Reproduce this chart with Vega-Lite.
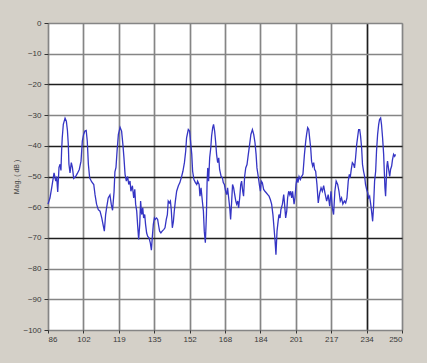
{
  "$schema": "https://vega.github.io/schema/vega-lite/v6.json",
  "width": 354,
  "height": 307,
  "autosize": {"type": "none"},
  "padding": {"left": 48, "top": 23, "right": 25, "bottom": 33},
  "background": "#d4d0c8",
  "config": {
    "view": {"fill": "white", "stroke": "#8a8a8a", "strokeWidth": 1},
    "font": "Liberation Sans"
  },
  "data": {
    "values": [
      {"f": 86.0, "mag": -59}, {"f": 86.9, "mag": -57}, {"f": 87.7, "mag": -53.7}, {"f": 88.8, "mag": -48.8},
      {"f": 89.6, "mag": -51.5}, {"f": 90.0, "mag": -50}, {"f": 90.5, "mag": -55}, {"f": 91.1, "mag": -47},
      {"f": 91.6, "mag": -46}, {"f": 92.0, "mag": -48}, {"f": 92.3, "mag": -41.7}, {"f": 92.6, "mag": -37.4},
      {"f": 93.1, "mag": -33}, {"f": 93.9, "mag": -31}, {"f": 94.5, "mag": -32}, {"f": 95.0, "mag": -35},
      {"f": 95.4, "mag": -39.5}, {"f": 95.7, "mag": -46}, {"f": 96.2, "mag": -48.8}, {"f": 96.8, "mag": -45.5},
      {"f": 97.3, "mag": -47}, {"f": 97.9, "mag": -50.6}, {"f": 98.8, "mag": -50}, {"f": 99.6, "mag": -49},
      {"f": 100.5, "mag": -47.7}, {"f": 101.3, "mag": -45}, {"f": 101.9, "mag": -38.5}, {"f": 102.5, "mag": -36.3},
      {"f": 103.1, "mag": -35.2}, {"f": 103.7, "mag": -35}, {"f": 104.2, "mag": -38.5}, {"f": 104.7, "mag": -46},
      {"f": 105.3, "mag": -50.4}, {"f": 106.2, "mag": -51.7}, {"f": 107.2, "mag": -52.6}, {"f": 107.8, "mag": -56},
      {"f": 108.5, "mag": -59}, {"f": 109.3, "mag": -60.8}, {"f": 110.1, "mag": -61.3}, {"f": 110.9, "mag": -63.5},
      {"f": 111.6, "mag": -66}, {"f": 112.1, "mag": -67.8}, {"f": 112.7, "mag": -62.4}, {"f": 113.2, "mag": -60},
      {"f": 113.9, "mag": -57}, {"f": 114.7, "mag": -56}, {"f": 115.3, "mag": -59}, {"f": 115.9, "mag": -61},
      {"f": 116.6, "mag": -55}, {"f": 117.0, "mag": -48.5}, {"f": 117.5, "mag": -47}, {"f": 118.0, "mag": -41.7},
      {"f": 118.6, "mag": -36.3},
      {"f": 119.4, "mag": -34}, {"f": 120.1, "mag": -35.2}, {"f": 120.7, "mag": -39.6}, {"f": 121.2, "mag": -44},
      {"f": 121.7, "mag": -49.3}, {"f": 122.3, "mag": -51.5}, {"f": 122.9, "mag": -50}, {"f": 123.4, "mag": -52.6},
      {"f": 124.0, "mag": -51.5}, {"f": 124.4, "mag": -54.8}, {"f": 125.1, "mag": -53}, {"f": 125.7, "mag": -57},
      {"f": 126.2, "mag": -54.2}, {"f": 126.6, "mag": -59}, {"f": 127.1, "mag": -61.3}, {"f": 127.5, "mag": -65.6},
      {"f": 128.0, "mag": -70.5}, {"f": 128.5, "mag": -65.6}, {"f": 128.9, "mag": -58}, {"f": 129.4, "mag": -62.4},
      {"f": 129.9, "mag": -60.2}, {"f": 130.3, "mag": -63.5}, {"f": 130.8, "mag": -62.4}, {"f": 131.2, "mag": -65.6},
      {"f": 131.7, "mag": -68.4}, {"f": 132.2, "mag": -69.5}, {"f": 132.8, "mag": -70}, {"f": 133.4, "mag": -71.6},
      {"f": 133.9, "mag": -74}, {"f": 134.3, "mag": -70}, {"f": 134.8, "mag": -65.6}, {"f": 135.3, "mag": -63.5},
      {"f": 135.7, "mag": -64}, {"f": 136.3, "mag": -63.5}, {"f": 136.8, "mag": -64}, {"f": 137.3, "mag": -66.2},
      {"f": 137.7, "mag": -67.8}, {"f": 138.3, "mag": -68.4}, {"f": 138.9, "mag": -67.8}, {"f": 139.6, "mag": -67.3},
      {"f": 140.2, "mag": -66.7}, {"f": 140.8, "mag": -64}, {"f": 141.3, "mag": -62.4}, {"f": 141.7, "mag": -58},
      {"f": 142.2, "mag": -58.6}, {"f": 142.7, "mag": -58}, {"f": 143.1, "mag": -60.8}, {"f": 143.6, "mag": -66.7},
      {"f": 144.1, "mag": -64.6}, {"f": 144.5, "mag": -61.3}, {"f": 145.0, "mag": -58}, {"f": 145.6, "mag": -54.8},
      {"f": 146.4, "mag": -53}, {"f": 147.1, "mag": -52}, {"f": 147.9, "mag": -50}, {"f": 148.5, "mag": -48.3},
      {"f": 149.2, "mag": -45.5}, {"f": 149.8, "mag": -41.7},
      {"f": 150.2, "mag": -37.4}, {"f": 151.0, "mag": -34.7}, {"f": 151.6, "mag": -35.2}, {"f": 152.1, "mag": -39},
      {"f": 152.6, "mag": -42.8}, {"f": 153.0, "mag": -48.3}, {"f": 153.6, "mag": -51}, {"f": 154.3, "mag": -52},
      {"f": 154.9, "mag": -52.6}, {"f": 155.3, "mag": -51.5}, {"f": 156.0, "mag": -52.6}, {"f": 156.4, "mag": -56.4},
      {"f": 156.9, "mag": -53.7}, {"f": 157.5, "mag": -58}, {"f": 158.0, "mag": -61.3}, {"f": 158.4, "mag": -67.8},
      {"f": 158.9, "mag": -71.6}, {"f": 159.4, "mag": -62.4}, {"f": 159.7, "mag": -52}, {"f": 160.0, "mag": -47.2},
      {"f": 160.4, "mag": -51.5}, {"f": 160.9, "mag": -43.9}, {"f": 161.4, "mag": -40.7}, {"f": 161.8, "mag": -36.8},
      {"f": 162.3, "mag": -34.1}, {"f": 162.7, "mag": -33}, {"f": 163.2, "mag": -35.2}, {"f": 163.7, "mag": -39},
      {"f": 164.1, "mag": -42.8}, {"f": 164.6, "mag": -45.5}, {"f": 165.1, "mag": -43.9}, {"f": 165.5, "mag": -47.7},
      {"f": 166.2, "mag": -50}, {"f": 166.8, "mag": -50.4}, {"f": 167.2, "mag": -52}, {"f": 167.7, "mag": -52.6},
      {"f": 168.3, "mag": -54.8}, {"f": 168.8, "mag": -55.9}, {"f": 169.2, "mag": -53.7}, {"f": 169.7, "mag": -57},
      {"f": 170.2, "mag": -60.2}, {"f": 170.6, "mag": -64}, {"f": 171.1, "mag": -58}, {"f": 171.5, "mag": -52.6},
      {"f": 172.0, "mag": -53.7}, {"f": 172.5, "mag": -55.9}, {"f": 173.0, "mag": -58}, {"f": 173.4, "mag": -59},
      {"f": 173.9, "mag": -58}, {"f": 174.3, "mag": -60.2}, {"f": 174.8, "mag": -57}, {"f": 175.3, "mag": -52.6},
      {"f": 175.7, "mag": -51.5}, {"f": 176.2, "mag": -54.8}, {"f": 176.6, "mag": -56.4}, {"f": 177.1, "mag": -50},
      {"f": 177.6, "mag": -47.2}, {"f": 178.2, "mag": -46.1}, {"f": 178.8, "mag": -42.8}, {"f": 179.4, "mag": -39.6},
      {"f": 180.0, "mag": -36.3}, {"f": 180.7, "mag": -34.7}, {"f": 181.3, "mag": -36.3},
      {"f": 181.9, "mag": -39}, {"f": 182.4, "mag": -42.8}, {"f": 182.8, "mag": -47.2}, {"f": 183.4, "mag": -50},
      {"f": 183.9, "mag": -52.6}, {"f": 184.4, "mag": -54.8}, {"f": 184.8, "mag": -51.5}, {"f": 185.3, "mag": -52},
      {"f": 185.9, "mag": -54.2}, {"f": 186.5, "mag": -54.8}, {"f": 187.1, "mag": -55.3}, {"f": 187.8, "mag": -55.9},
      {"f": 188.4, "mag": -56.4}, {"f": 189.0, "mag": -57.5}, {"f": 189.6, "mag": -59}, {"f": 190.2, "mag": -62.4},
      {"f": 190.7, "mag": -66.7}, {"f": 191.2, "mag": -71}, {"f": 191.6, "mag": -75.5}, {"f": 192.1, "mag": -67.8},
      {"f": 192.6, "mag": -64.6}, {"f": 193.0, "mag": -62.4}, {"f": 193.5, "mag": -63.5}, {"f": 193.9, "mag": -60.8},
      {"f": 194.6, "mag": -59}, {"f": 195.2, "mag": -55.9}, {"f": 195.6, "mag": -59}, {"f": 196.1, "mag": -63.5},
      {"f": 196.6, "mag": -61.3}, {"f": 197.0, "mag": -57}, {"f": 197.5, "mag": -54.8}, {"f": 198.0, "mag": -55.9},
      {"f": 198.4, "mag": -54.8}, {"f": 198.9, "mag": -57}, {"f": 199.3, "mag": -54.8}, {"f": 200.0, "mag": -59},
      {"f": 200.4, "mag": -57}, {"f": 200.9, "mag": -52.6}, {"f": 201.4, "mag": -50.4}, {"f": 201.8, "mag": -52},
      {"f": 202.3, "mag": -50}, {"f": 202.9, "mag": -51}, {"f": 203.5, "mag": -50}, {"f": 204.1, "mag": -49.3},
      {"f": 204.8, "mag": -42.8}, {"f": 205.4, "mag": -38.5}, {"f": 205.8, "mag": -36.3}, {"f": 206.3, "mag": -34.1},
      {"f": 206.8, "mag": -34.7}, {"f": 207.2, "mag": -37.4}, {"f": 207.7, "mag": -40.7}, {"f": 208.1, "mag": -45},
      {"f": 208.6, "mag": -46.6}, {"f": 209.1, "mag": -45.5}, {"f": 209.5, "mag": -47.7}, {"f": 210.0, "mag": -48.3},
      {"f": 210.6, "mag": -52.6}, {"f": 211.2, "mag": -58.6}, {"f": 211.9, "mag": -55.3}, {"f": 212.5, "mag": -53.7},
      {"f": 213.1, "mag": -54.8}, {"f": 213.7, "mag": -53},
      {"f": 214.3, "mag": -55.3}, {"f": 215.1, "mag": -58}, {"f": 215.8, "mag": -55.9}, {"f": 216.5, "mag": -59.7},
      {"f": 217.1, "mag": -54.8}, {"f": 217.7, "mag": -60.2}, {"f": 218.3, "mag": -62.4}, {"f": 218.9, "mag": -54.8},
      {"f": 219.5, "mag": -51.5}, {"f": 220.2, "mag": -52.6}, {"f": 220.8, "mag": -54.8}, {"f": 221.4, "mag": -58},
      {"f": 222.0, "mag": -57}, {"f": 222.6, "mag": -59}, {"f": 223.3, "mag": -58}, {"f": 223.9, "mag": -58.6},
      {"f": 224.5, "mag": -57}, {"f": 225.1, "mag": -51.5}, {"f": 225.6, "mag": -49.3}, {"f": 226.0, "mag": -50.4},
      {"f": 226.5, "mag": -47.7}, {"f": 227.0, "mag": -45.5}, {"f": 227.6, "mag": -46.1}, {"f": 228.0, "mag": -47.2},
      {"f": 228.5, "mag": -43.9}, {"f": 229.0, "mag": -39.6}, {"f": 229.4, "mag": -37.4}, {"f": 229.9, "mag": -34.7},
      {"f": 230.4, "mag": -34.7}, {"f": 230.8, "mag": -36.8}, {"f": 231.3, "mag": -40.7}, {"f": 231.7, "mag": -46.1},
      {"f": 232.2, "mag": -48.3}, {"f": 232.7, "mag": -50}, {"f": 233.1, "mag": -52.6}, {"f": 233.6, "mag": -54.2},
      {"f": 234.1, "mag": -55.3}, {"f": 234.5, "mag": -57}, {"f": 235.0, "mag": -56.4}, {"f": 235.5, "mag": -59},
      {"f": 235.9, "mag": -61.3}, {"f": 236.4, "mag": -64.6}, {"f": 236.8, "mag": -60.2}, {"f": 237.3, "mag": -51.5},
      {"f": 237.8, "mag": -48.3}, {"f": 238.2, "mag": -41.7}, {"f": 238.7, "mag": -36.3}, {"f": 239.2, "mag": -33},
      {"f": 239.6, "mag": -31.4}, {"f": 240.1, "mag": -30.9}, {"f": 240.5, "mag": -33}, {"f": 241.0, "mag": -37.4},
      {"f": 241.5, "mag": -42.8}, {"f": 241.8, "mag": -48.3}, {"f": 242.1, "mag": -53.7}, {"f": 242.4, "mag": -56.4},
      {"f": 242.7, "mag": -51.5}, {"f": 243.0, "mag": -46.6}, {"f": 243.3, "mag": -45}, {"f": 243.8, "mag": -47.7},
      {"f": 244.3, "mag": -50}, {"f": 244.7, "mag": -47.7}, {"f": 245.2, "mag": -46.6}, {"f": 245.6, "mag": -44.5},
      {"f": 246.1, "mag": -42.8}, {"f": 246.6, "mag": -43.4}, {"f": 247.0, "mag": -42.8}
    ]
  },
  "mark": {"type": "line", "color": "#3535c4", "strokeWidth": 1.3, "interpolate": "linear"},
  "encoding": {
    "x": {
      "field": "f",
      "type": "quantitative",
      "scale": {"domain": [86, 250], "nice": false, "zero": false},
      "axis": {
        "title": null,
        "values": [86, 102.4, 118.8, 135.2, 151.6, 168, 184.4, 200.8, 217.2, 233.6, 250],
        "labelExpr": "format(datum.value, '.0f')",
        "labelFontSize": 8,
        "labelColor": "#3a3a3a",
        "labelPadding": 2,
        "tickSize": 3,
        "tickColor": "#333333",
        "domain": false,
        "grid": true,
        "gridWidth": 1.7,
        "gridOpacity": 1,
        "gridColor": {"condition": {"test": "datum.value === 233.6", "value": "#1e1e1e"}, "value": "#858585"}
      }
    },
    "y": {
      "field": "mag",
      "type": "quantitative",
      "scale": {"domain": [-100, 0], "nice": false, "zero": false},
      "axis": {
        "title": "Mag. ( dB )",
        "titleFontSize": 7,
        "titleFontWeight": "normal",
        "titleColor": "#444444",
        "titlePadding": 3,
        "values": [0, -10, -20, -30, -40, -50, -60, -70, -80, -90, -100],
        "labelFontSize": 8,
        "labelColor": "#3a3a3a",
        "labelPadding": 3,
        "tickSize": 4,
        "tickColor": "#333333",
        "domain": false,
        "grid": true,
        "gridWidth": 1.7,
        "gridOpacity": 1,
        "gridColor": {"condition": {"test": "datum.value === -20 || datum.value === -40 || datum.value === -50 || datum.value === -70", "value": "#1e1e1e"}, "value": "#858585"}
      }
    }
  }
}
